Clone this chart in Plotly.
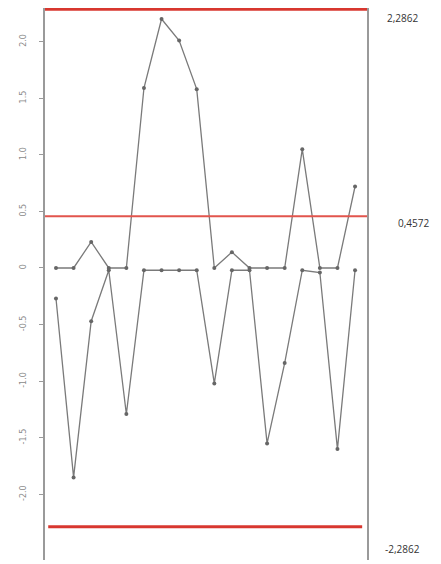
import plotly.graph_objects as go

# observations 1..18
obs = list(range(1, 19))

# upper cumulative sum (C+)
c_plus = [0, 0, 0.23, 0, 0, 1.59, 2.20, 2.01, 1.58, 0, 0.14, 0, 0, 0, 1.05, 0, 0, 0.72]
# lower cumulative sum (C-)
c_minus = [-0.27, -1.85, -0.47, -0.02, -1.29, -0.02, -0.02, -0.02, -0.02, -1.02,
           -0.02, -0.02, -1.55, -0.84, -0.02, -0.04, -1.60, -0.02]

# control limits
upper_limit = 2.2862
center_ref = 0.4572
lower_limit = -2.2862
limit_labels = ["2,2862", "0,4572", "-2,2862"]

tick_vals = [2.0, 1.5, 1.0, 0.5, 0, -0.5, -1.0, -1.5, -2.0]
tick_text = ["2.0", "1.5", "1.0", "0.5", "0", "-0.5", "-1.0", "-1.5", "-2.0"]

line_style = dict(color="#7a7a7a", width=1.3)
marker_style = dict(color="#666666", size=4)

fig = go.Figure()
fig.add_trace(go.Scatter(x=obs, y=c_plus, mode="lines+markers",
                         line=line_style, marker=marker_style, showlegend=False))
fig.add_trace(go.Scatter(x=obs, y=c_minus, mode="lines+markers",
                         line=line_style, marker=marker_style, showlegend=False))

red = "#d8372f"
fig.add_shape(type="line", xref="paper", yref="y", x0=0, x1=1,
              y0=upper_limit, y1=upper_limit, line=dict(color=red, width=3))
fig.add_shape(type="line", xref="paper", yref="y", x0=0, x1=1,
              y0=center_ref, y1=center_ref, line=dict(color="#e2554d", width=1.8))
fig.add_shape(type="line", xref="paper", yref="y", x0=0.01, x1=0.985,
              y0=lower_limit, y1=lower_limit, line=dict(color=red, width=3))

ann_font = dict(family="Open Sans, Arial, sans-serif", size=10, color="#333333")
for val, txt, xs, ys in [(upper_limit, limit_labels[0], 18, -9),
                         (center_ref, limit_labels[1], 29, -7),
                         (lower_limit, limit_labels[2], 16, -22)]:
    fig.add_annotation(xref="paper", yref="y", x=1, y=val, text=txt,
                       showarrow=False, xanchor="left", yanchor="middle",
                       xshift=xs, yshift=ys, font=ann_font)

fig.update_layout(
    width=433, height=556,
    margin=dict(l=37, r=74, t=0, b=4),
    paper_bgcolor="white", plot_bgcolor="white",
    xaxis=dict(range=[0.375, 18.68], showline=False, showgrid=False,
               zeroline=False, showticklabels=False, ticks=""),
    yaxis=dict(range=[-2.580, 2.297], showline=True, mirror=True,
               linecolor="#9a9a9a", linewidth=2, showgrid=False, zeroline=False,
               tickvals=tick_vals, ticktext=tick_text, ticks="outside",
               ticklen=4, tickcolor="#9a9a9a", tickangle=-90,
               ticklabelstandoff=10,
               tickfont=dict(family="DejaVu Sans, sans-serif", size=8, color="#8a8a8a")),
)

fig.write_html("out.html")
